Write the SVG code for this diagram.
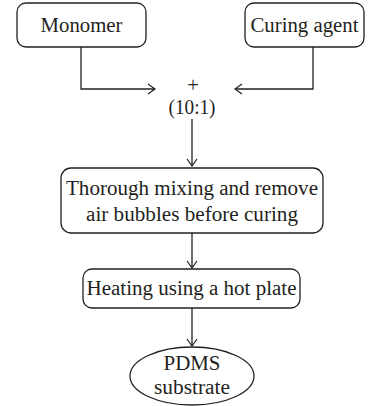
<svg xmlns="http://www.w3.org/2000/svg" width="372" height="406" viewBox="0 0 372 406">
<defs>
<marker id="arr" markerWidth="10" markerHeight="12" refX="8" refY="6" orient="auto" markerUnits="userSpaceOnUse">
<path d="M1,1 L8,6 L1,11" fill="none" stroke="#231f20" stroke-width="1.2"/>
</marker>
</defs>
<style>
.box{fill:#fff;stroke:#231f20;stroke-width:1.3}
.t{font-family:"Liberation Serif",serif;font-size:20.5px;fill:#231f20;text-anchor:middle}
.c{fill:none;stroke:#231f20;stroke-width:1.3}
</style>
<rect width="372" height="406" fill="#fff"/>
<g id="connectors">
<path class="c" d="M81,47 V89 H155" marker-end="url(#arr)"/>
<path class="c" d="M313,47 V89 H235" marker-end="url(#arr)"/>
<path class="c" d="M192,119 V166" marker-end="url(#arr)"/>
<path class="c" d="M192,233 V268" marker-end="url(#arr)"/>
<path class="c" d="M192,308 V346" marker-end="url(#arr)"/>
</g>
<g id="monomer">
<rect class="box" x="17" y="3" width="129" height="44" rx="9"/>
<text class="t" x="81.5" y="32" textLength="82" lengthAdjust="spacingAndGlyphs">Monomer</text>
</g>
<g id="curing">
<rect class="box" x="245" y="3" width="119" height="44" rx="9"/>
<text class="t" x="304.5" y="32" textLength="108" lengthAdjust="spacingAndGlyphs">Curing agent</text>
</g>
<g id="plus">
<text class="t" x="193" y="92" font-size="16">+</text>
<text class="t" x="192" y="114" textLength="47" lengthAdjust="spacingAndGlyphs">(10:1)</text>
</g>
<g id="mixing">
<rect class="box" x="61" y="168" width="262" height="65" rx="10"/>
<text class="t" x="192" y="195" textLength="252" lengthAdjust="spacingAndGlyphs">Thorough mixing and remove</text>
<text class="t" x="192" y="221" textLength="212" lengthAdjust="spacingAndGlyphs">air bubbles before curing</text>
</g>
<g id="heating">
<rect class="box" x="83" y="269" width="217" height="39" rx="9"/>
<text class="t" x="191.5" y="295" textLength="210" lengthAdjust="spacingAndGlyphs">Heating using a hot plate</text>
</g>
<g id="pdms">
<ellipse class="box" cx="192" cy="376" rx="62" ry="29"/>
<text class="t" x="192" y="370" textLength="57" lengthAdjust="spacingAndGlyphs">PDMS</text>
<text class="t" x="192" y="394" textLength="76" lengthAdjust="spacingAndGlyphs">substrate</text>
</g>
</svg>
